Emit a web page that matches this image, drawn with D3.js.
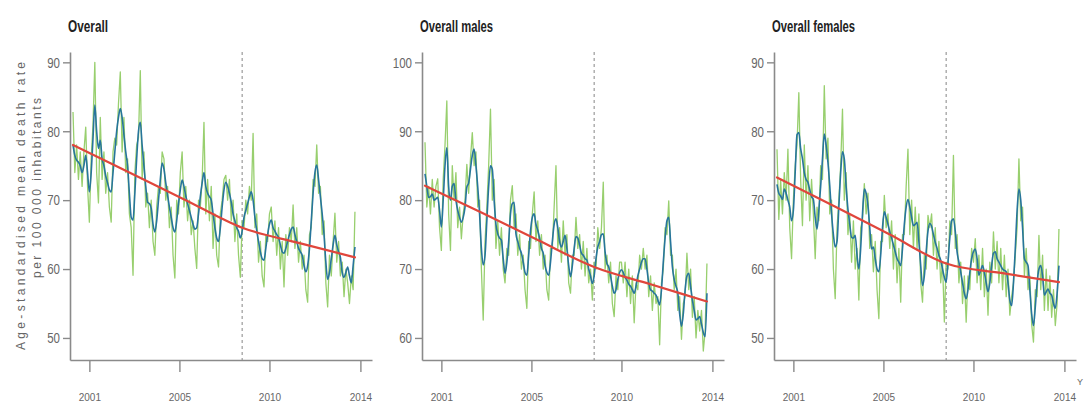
<!DOCTYPE html>
<html>
<head>
<meta charset="utf-8">
<script src="https://cdn.jsdelivr.net/npm/d3@7"></script>
<style>
  html, body { margin: 0; padding: 0; background: #fff; }
  svg { display: block; }
</style>
</head>
<body>
<svg id="chart" width="1084" height="403"></svg>
<script>
// Monthly age-standardised mean death rates, Jan 2001 (index 0) to Dec 2013 (index 155)
const panelTitles = ["Overall", "Overall males", "Overall females"];

// Observed monthly rates
const overallObserved = [
  82.8, 74, 78, 73, 77, 72, 77, 80.6, 72, 66.8, 76, 81,
  90, 74, 69.6, 82, 73, 77, 71, 74, 69, 66.8, 77, 79,
  78, 84, 88.6, 77, 82, 74, 76, 68, 66, 59.1, 74, 78,
  79, 88.8, 73, 77, 69, 71, 66, 70, 64, 62, 69, 72,
  71, 77, 76, 70, 72, 66, 69, 62, 58.7, 70, 68, 74,
  77, 69, 72, 67, 70, 65, 67, 63, 60.1, 70, 69, 73,
  81.3, 68, 73, 67, 72, 63, 68, 62, 60.3, 68, 70, 73,
  73.6, 70, 73, 67, 70, 64, 68, 62, 58.8, 67, 66, 70,
  68, 72, 70, 79.7, 66, 68, 61, 64, 59, 57.4, 65, 64,
  68, 69, 64, 67, 62, 66, 60, 64, 57.4, 65, 62, 66,
  64, 69.3, 63, 66, 61, 64, 60, 62, 57, 55.2, 65, 66,
  73, 72, 78, 71, 72, 65, 67, 58, 54.5, 62, 59, 64,
  68.1, 61, 64, 59, 61, 56, 60, 58, 55, 59, 57, 68.3
];
const malesObserved = [
  88.4, 79, 82, 78, 83, 79, 82, 83.1, 76, 72.7, 83, 88,
  94.4, 78, 72.7, 85, 80, 84, 76, 79, 74.4, 78, 80, 85.2,
  81, 86, 89.8, 85, 87, 79, 80, 70, 62.6, 74, 79, 85,
  93.2, 80, 83, 73, 77, 72, 76, 70, 68, 73, 72, 80,
  82.1, 76, 78, 72, 75, 70, 72, 67, 64.3, 74, 73, 78,
  81.2, 74, 77, 72, 75, 70, 72, 67, 65.5, 73, 73, 79,
  85, 73, 76, 71, 77, 72, 75, 68, 66.5, 72, 72, 77.5,
  73, 75, 70, 74, 69, 73, 68, 70, 65.5, 71, 70, 76,
  73, 76, 82.6, 70, 72, 68, 71, 65, 63.1, 69, 67, 71,
  71, 68, 71, 66, 70, 65, 69, 62.2, 68, 67, 72, 70,
  73, 70, 72, 66, 69, 64, 68, 65, 66, 59, 68, 70,
  76, 75, 79.9, 72, 72, 67, 70, 64, 66, 59.8, 65, 66,
  72.3, 67, 70, 63, 66, 60, 64, 61, 64, 58.1, 61, 70.8
];
const femalesObserved = [
  77.4, 67.2, 73, 68, 74, 70, 77.4, 66, 61.5, 70, 75, 78,
  85.6, 73, 66.3, 78, 70, 75, 67, 73, 68, 61.5, 69, 67,
  75, 73, 86.6, 76, 79, 68, 70, 60, 55.7, 66, 70, 75,
  83.2, 70, 74, 65, 68, 61, 67, 60, 63, 55.5, 66, 67,
  72.4, 68, 71, 63, 65, 59.6, 64, 57, 52.8, 64, 64, 70.7,
  66, 68, 63, 67, 60, 65, 58, 63, 55.2, 65, 65, 72,
  77.4, 65, 70, 63, 69, 63, 68, 58, 55.2, 62, 60, 67.8,
  66, 68, 62, 66, 60, 64, 58, 61, 52.3, 61, 60, 67,
  65, 76.5, 63, 65, 58, 61, 55, 59, 52.3, 59, 57, 63,
  61, 64.4, 58, 62, 57, 63, 56, 60, 53.3, 61, 58, 65.4,
  60, 64, 58, 63, 57, 62, 56, 60, 53.3, 56, 58, 62,
  66, 76, 67, 69, 59, 63, 57, 59, 52, 49.4, 57, 56,
  64.9, 57, 62, 54, 60, 54, 59, 53, 57, 51.8, 55, 65.8
];

// Smoothed monthly rates
const overallSmoothed = [
  78, 76.5, 75.8, 75.5, 75, 74, 75, 76.5, 74, 71.2, 74, 79,
  83.8, 80, 77.5, 78.7, 76, 75, 73.5, 72.5, 71.5, 71.2, 74, 77,
  80, 82, 83.3, 82, 79.5, 77, 75, 71, 67.5, 67.1, 71, 76,
  80, 81.3, 78, 75, 72, 69.7, 69.5, 68.8, 66.5, 65.4, 67, 70,
  73, 75.4, 74.5, 72.5, 70.7, 69, 67.5, 66, 65.4, 67, 69.5, 71.5,
  72.9, 72, 70.6, 69.5, 68.5, 67.5, 66.5, 65.8, 66, 68, 70.5, 72.5,
  74, 72, 71, 70.5, 70, 68, 66, 64.5, 64, 66, 69, 71.5,
  72.6, 72, 71, 69.7, 68, 67, 66, 65.5, 64.5, 65.5, 67.5, 68.5,
  69.5, 70.5, 71.2, 70, 67.5, 65.6, 64, 62.5, 61.5, 61.3, 63, 65,
  66.5, 67.1, 66, 65.5, 65, 64.6, 63.5, 62.5, 62.3, 63, 64, 65,
  65.8, 66.1, 65, 64, 63, 62.5, 62, 60.5, 59.6, 60.5, 63, 67,
  71, 74, 75.1, 73, 70.5, 68, 65, 61, 58.5, 59.5, 61.5, 63.5,
  64.9, 63.5, 62.5, 61.7, 59.5, 58.8, 59.5, 60.3, 59, 58, 60.5, 63.2
];
const malesSmoothed = [
  83.8, 82, 80.4, 80.5, 80.9, 80, 80.2, 80.4, 78.5, 76.1, 80, 85,
  87.6, 82, 80, 82, 82.4, 80, 78.5, 77.5, 76.8, 77.5, 79, 81.9,
  82.5, 84.5, 86.5, 87.4, 85, 81.9, 78, 73, 70.6, 72, 77, 82,
  85, 84.5, 80, 76.5, 75.1, 74.5, 74.2, 71.5, 69.4, 71, 74, 78,
  79.5, 79.7, 75.1, 74, 73, 72.3, 71, 69.5, 69.1, 72, 75.5, 77.5,
  78, 76.5, 75.6, 74.5, 73, 72.3, 70.5, 69.5, 69.1, 71, 74, 76.5,
  77.3, 76, 74, 73.2, 74, 74.9, 73, 70.5, 68.9, 70.5, 73, 74.7,
  74.5, 73.5, 72.3, 72, 71.5, 71.3, 70, 69, 67.9, 69, 71.5, 73.2,
  74, 75, 75.1, 72.5, 70.8, 70.3, 69, 67.5, 66.5, 67, 68.5, 69.5,
  69.9, 69.5, 68.8, 68.4, 67.8, 67.5, 67, 66.5, 67.5, 69, 70, 71,
  71.5, 71.5, 70, 68, 67, 66.8, 66.5, 66.2, 65.5, 64.8, 67, 71,
  74.5, 77, 77.5, 74, 70.3, 68.5, 67.5, 66.5, 63.5, 61.7, 63.5, 67,
  69, 69.4, 67.5, 65.5, 64, 62.6, 62.8, 63.1, 62, 60.8, 60.2, 66.5
];
const femalesSmoothed = [
  72.3, 71, 70.6, 70.1, 71.6, 71, 70, 69, 67, 68.5, 74, 79.5,
  79.8, 77.5, 76, 74, 73, 72.6, 71.5, 70.5, 70.1, 67.5, 65.8, 68.5,
  72, 76, 79.6, 78, 75.5, 72.1, 68, 65, 63.2, 64, 69, 74,
  77, 76, 72, 68.7, 66.5, 64.6, 64.5, 64.9, 62, 60, 63, 68,
  71.6, 71, 69.2, 66, 62.9, 63.2, 61.5, 60, 59.6, 62, 66, 68.3,
  67.5, 66.5, 65.4, 64.5, 63.5, 62.5, 61.5, 61, 60.5, 63, 66.5, 69,
  70.1, 69, 67.5, 66.3, 66.5, 66.8, 64, 60.5, 57.6, 59, 62.5, 65.5,
  66.6, 66.2, 65, 63.9, 63, 62, 61.3, 60, 58.8, 58.1, 61, 64.5,
  67, 67.3, 65.5, 62.5, 61, 59.6, 58, 56.5, 55.7, 57, 59.5, 61.5,
  62.5, 62.9, 61.5, 59.1, 59.8, 60.5, 59.5, 58, 56.7, 58, 60.5, 62.3,
  62.5, 61.5, 61, 60.5, 60, 59.8, 59.6, 58, 55.5, 54.7, 58, 63,
  68.5, 71.6, 70, 66, 61.5, 61, 60.5, 57, 53.5, 51.8, 54.5, 58,
  60, 60.5, 59, 56.2, 56.7, 57.1, 56.5, 56.2, 55, 54.3, 56.5, 60.5
];

// Segmented trend (month index -> fitted rate)
const trendMonths = [0, 31, 62, 93, 124, 155];
const overallTrend = [78, 74, 70, 66, 63.8, 61.7];
const malesTrend = [82.1, 78.2, 74.2, 70.3, 67.8, 65.3];
const femalesTrend = [73.3, 69.2, 65, 60.8, 59.4, 58.1];

// Onset of the crisis period (October 2008)
const breakMonth = 93;

// Axis ticks
const xTickMonths = [9, 58.5, 108, 158];
const xTickLabels = ["2001", "2005", "2010", "2014"];
const yTicksOverall = [50, 60, 70, 80, 90];
const yTicksMales = [60, 70, 80, 90, 100];
const yTicksFemales = [50, 60, 70, 80, 90];

const panels = [
  { title: panelTitles[0], obs: overallObserved, smooth: overallSmoothed, trend: overallTrend, yTicks: yTicksOverall, yMin: 46.8, yMax: 91.5, left: 70, titleW: 40 },
  { title: panelTitles[1], obs: malesObserved, smooth: malesSmoothed, trend: malesTrend, yTicks: yTicksMales, yMin: 56.8, yMax: 101.5, left: 422, titleW: 73 },
  { title: panelTitles[2], obs: femalesObserved, smooth: femalesSmoothed, trend: femalesTrend, yTicks: yTicksFemales, yMin: 46.8, yMax: 91.5, left: 774, titleW: 83 }
];

const svg = d3.select("#chart");
const plotTop = 52, plotBottom = 360, axisLen = 302;
const axisColor = "#8a8a8a";
const sans = "'Liberation Sans', Arial, sans-serif";

panels.forEach(p => {
  const g = svg.append("g");
  // 1.819 px per month; first month sits 3 px right of the y axis
  const x = d3.scaleLinear()
    .domain([-3 / 1.819, (axisLen - 3) / 1.819])
    .range([p.left, p.left + axisLen]);
  const y = d3.scaleLinear().domain([p.yMin, p.yMax]).range([plotBottom, plotTop]);

  // Title (bold, condensed)
  g.append("text")
    .attr("x", p.left - 2).attr("y", 32)
    .attr("font-family", sans).attr("font-weight", "bold")
    .attr("font-size", 16).attr("fill", "#222")
    .attr("textLength", p.titleW).attr("lengthAdjust", "spacingAndGlyphs")
    .text(p.title);

  // Break marker
  g.append("line")
    .attr("x1", x(breakMonth)).attr("x2", x(breakMonth))
    .attr("y1", plotTop).attr("y2", plotBottom)
    .attr("stroke", "#9a9a9a").attr("stroke-width", 1.2)
    .attr("stroke-dasharray", "3,3");

  const months = d3.range(p.obs.length);

  // Observed series
  g.append("path")
    .datum(months)
    .attr("fill", "none").attr("stroke", "#98cf6e").attr("stroke-width", 1.3)
    .attr("stroke-linejoin", "round")
    .attr("d", d3.line().x(i => x(i)).y(i => y(p.obs[i])));

  // Smoothed series
  g.append("path")
    .datum(months)
    .attr("fill", "none").attr("stroke", "#27759c").attr("stroke-width", 1.6)
    .attr("stroke-linejoin", "round")
    .attr("d", d3.line().x(i => x(i)).y(i => y(p.smooth[i])).curve(d3.curveMonotoneX));

  // Trend
  g.append("path")
    .datum(trendMonths.map((m, i) => [m, p.trend[i]]))
    .attr("fill", "none").attr("stroke", "#e0463c").attr("stroke-width", 2.2)
    .attr("stroke-linecap", "round")
    .attr("d", d3.line().x(d => x(d[0])).y(d => y(d[1])).curve(d3.curveMonotoneX));

  // Axes
  const yAxis = d3.axisLeft(y).tickValues(p.yTicks).tickSize(7).tickSizeOuter(0).tickPadding(3);
  const gy = g.append("g").attr("transform", `translate(${p.left},0)`).call(yAxis);
  const xAxis = d3.axisBottom(x).tickValues(xTickMonths)
    .tickFormat((d, i) => xTickLabels[i]).tickSize(12).tickSizeOuter(0).tickPadding(22);
  const gx = g.append("g").attr("transform", `translate(0,${plotBottom})`).call(xAxis);

  [gx, gy].forEach(a => {
    a.select(".domain").attr("stroke", axisColor).attr("stroke-width", 1.6);
    a.selectAll(".tick line").attr("stroke", axisColor).attr("stroke-width", 1.4);
  });
  // Condensed numerals on the y axis
  gy.selectAll(".tick text")
    .attr("font-family", sans).attr("font-size", 15).attr("fill", "#666")
    .attr("textLength", d => String(d).length * 6.4).attr("lengthAdjust", "spacingAndGlyphs");
  gx.selectAll(".tick text").attr("font-family", sans).attr("font-size", 10).attr("fill", "#666");
});

// Shared y-axis title
const yTitle = svg.append("g").attr("fill", "#666").attr("font-family", sans).attr("font-size", 12);
yTitle.append("text")
  .attr("transform", "translate(25,206) rotate(-90)")
  .attr("text-anchor", "middle")
  .attr("textLength", 288).attr("lengthAdjust", "spacing")
  .text("Age-standardised mean death rate");
yTitle.append("text")
  .attr("transform", "translate(41,188) rotate(-90)")
  .attr("text-anchor", "middle")
  .attr("textLength", 180).attr("lengthAdjust", "spacing")
  .text("per 100 000 inhabitants");

// Axis name at the right edge
svg.append("text")
  .attr("x", 1077).attr("y", 385)
  .attr("font-family", sans).attr("font-size", 9).attr("fill", "#666")
  .text("Y");
</script>
</body>
</html>
